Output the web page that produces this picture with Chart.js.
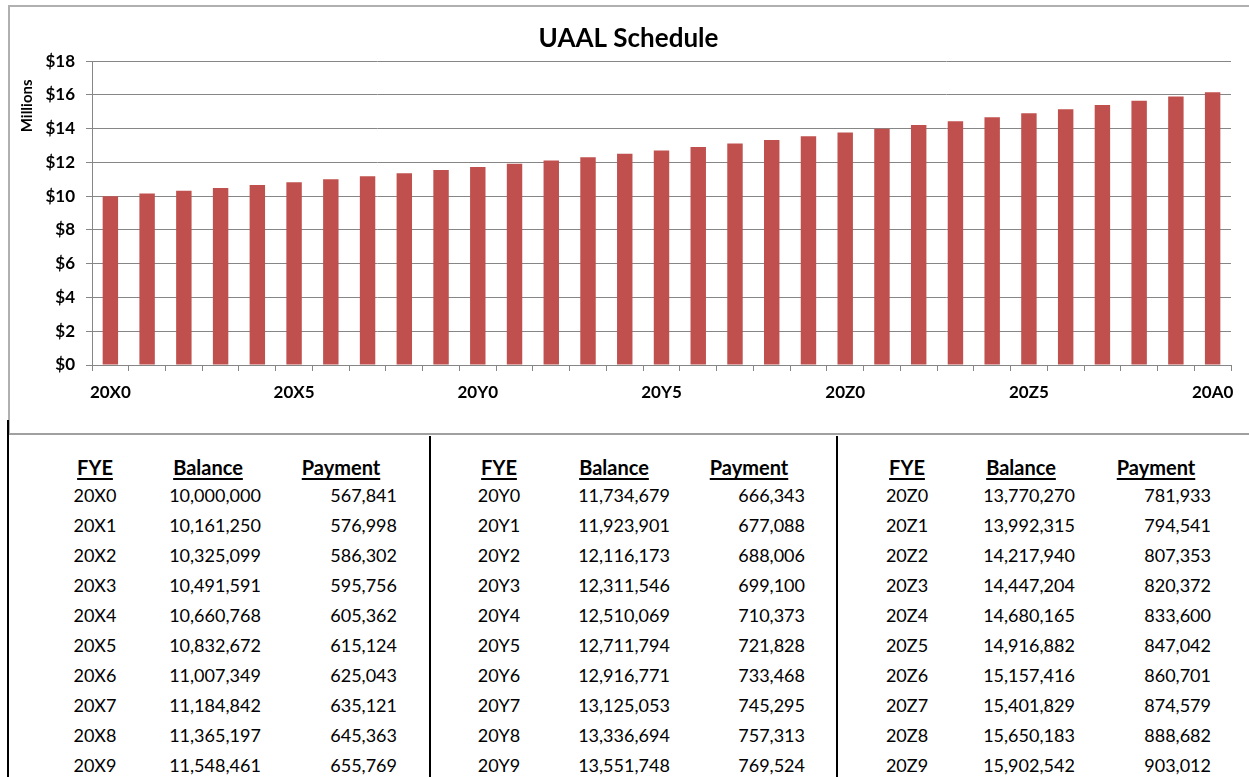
<!DOCTYPE html>
<html lang="en">
<head>
    <meta charset="UTF-8">
    <title>UAAL Schedule</title>
    <script src="https://cdn.jsdelivr.net/npm/chart.js"></script>
    <style>
        body { margin: 0; background: #fff; font-family: Lato, sans-serif; }
        #chartBox {
            position: absolute; left: 8px; top: 5px; width: 1241px; height: 430px;
            border-top: 2px solid #b0b0b0; border-left: 2px solid #b0b0b0; border-bottom: 2px solid #a0a0a0;
            box-sizing: border-box;
        }
        #chartBox canvas { position: absolute; left: 0; top: 0; }
        .vline { position: absolute; width: 2px; background: #000; }
        .cell { position: absolute; font-size: 18px; line-height: 22px; color: #000; white-space: nowrap; }
        .hdr { font-size: 20px; font-weight: bold; text-decoration: underline; text-underline-offset: 3px; text-decoration-thickness: 2px; }
    </style>
</head>
<body>
    <div id="chartBox"><canvas id="uaalChart" width="1239" height="428"></canvas></div>
    <div class="vline" style="left:7px; top:420px; height:357px;"></div>
    <div class="vline" style="left:429px; top:436px; height:341px;"></div>
    <div class="vline" style="left:836px; top:436px; height:341px;"></div>
    <div id="table"></div>

    <script>
        // Dữ liệu bảng
        const fye = ['20X0','20X1','20X2','20X3','20X4','20X5','20X6','20X7','20X8','20X9',
                     '20Y0','20Y1','20Y2','20Y3','20Y4','20Y5','20Y6','20Y7','20Y8','20Y9',
                     '20Z0','20Z1','20Z2','20Z3','20Z4','20Z5','20Z6','20Z7','20Z8','20Z9'];
        const balances = [10000000, 10161250, 10325099, 10491591, 10660768, 10832672, 11007349, 11184842, 11365197, 11548461,
                          11734679, 11923901, 12116173, 12311546, 12510069, 12711794, 12916771, 13125053, 13336694, 13551748,
                          13770270, 13992315, 14217940, 14447204, 14680165, 14916882, 15157416, 15401829, 15650183, 15902542];
        const payments = [567841, 576998, 586302, 595756, 605362, 615124, 625043, 635121, 645363, 655769,
                          666343, 677088, 688006, 699100, 710373, 721828, 733468, 745295, 757313, 769524,
                          781933, 794541, 807353, 820372, 833600, 847042, 860701, 874579, 888682, 903012];
        // năm cuối chỉ có trên biểu đồ
        const lastYear = '20A0';
        const lastBalance = 16160000;

        const chartLabels = fye.concat([lastYear]);
        const chartValues = balances.concat([lastBalance]).map(v => v / 1e6);
        const yTicks = [0, 2, 4, 6, 8, 10, 12, 14, 16, 18];

        const fmt = n => n.toLocaleString('en-US');

        // Vẽ bảng 3 nhóm x 10 dòng
        const groups = [
            { fye: 95,  balHdr: 208,  bal: 215,  payHdr: 341,  payRight: 397 },
            { fye: 499, balHdr: 614,  bal: 624,  payHdr: 749,  payRight: 805 },
            { fye: 907, balHdr: 1021, bal: 1029, payHdr: 1156, payRight: 1211 }
        ];
        const table = document.getElementById('table');
        function cell(text, x, y, align, cls) {
            const d = document.createElement('div');
            d.className = 'cell' + (cls ? ' ' + cls : '');
            d.textContent = text;
            d.style.top = (y - 11) + 'px';
            if (align === 'center') { d.style.left = x + 'px'; d.style.transform = 'translateX(-50%)'; }
            else { d.style.right = (1249 - x) + 'px'; d.style.textAlign = 'right'; }
            table.appendChild(d);
        }
        groups.forEach((g, gi) => {
            cell('FYE', g.fye, 467, 'center', 'hdr');
            cell('Balance', g.balHdr, 467, 'center', 'hdr');
            cell('Payment', g.payHdr, 467, 'center', 'hdr');
            for (let r = 0; r < 10; r++) {
                const i = gi * 10 + r;
                const y = 495 + r * 30;
                cell(fye[i], g.fye, y, 'center');
                cell(fmt(balances[i]), g.bal, y, 'center');
                cell(fmt(payments[i]), g.payRight, y, 'right');
            }
        });

        const gridColor = '#868686';
        const ctx = document.getElementById('uaalChart').getContext('2d');
        new Chart(ctx, {
            type: 'bar',
            data: {
                labels: chartLabels,
                datasets: [{
                    label: 'Balance',
                    data: chartValues,
                    backgroundColor: '#C0504D',
                    borderWidth: 0,
                    barPercentage: 0.42,
                    categoryPercentage: 1
                }]
            },
            options: {
                responsive: false,
                animation: false,
                layout: { padding: { left: 16, right: 18, top: 0, bottom: 0 } },
                plugins: {
                    legend: { display: false },
                    tooltip: { enabled: false },
                    title: {
                        display: true,
                        text: 'UAAL Schedule',
                        color: '#000',
                        font: { family: 'Lato', size: 26, weight: 'bold' },
                        padding: { top: 16, bottom: 7 }
                    }
                },
                scales: {
                    x: {
                        afterFit: s => { s.height = 70; },
                        grid: { display: true, drawOnChartArea: false, offset: true, tickLength: 6, color: gridColor },
                        border: { color: gridColor },
                        ticks: {
                            autoSkip: false, maxRotation: 0, padding: 11, color: '#000',
                            font: { family: 'Lato', size: 17, weight: 'bold' },
                            callback: (v, i) => (i % 5 === 0 ? chartLabels[i] : '')
                        }
                    },
                    y: {
                        min: 0, max: 18,
                        afterFit: s => { s.width = 66; },
                        afterBuildTicks: s => { s.ticks = yTicks.map(v => ({ value: v })); },
                        grid: { color: gridColor, tickLength: 6 },
                        border: { color: gridColor },
                        title: {
                            display: true, text: 'Millions     ', color: '#000', align: 'end',
                            font: { family: 'Lato', size: 15, weight: 'bold' },
                            padding: { top: -8, bottom: 0 }
                        },
                        ticks: {
                            padding: 11, color: '#000',
                            font: { family: 'Lato', size: 17, weight: 'bold' },
                            callback: v => '$' + v
                        }
                    }
                }
            }
        });
    </script>
</body>
</html>
